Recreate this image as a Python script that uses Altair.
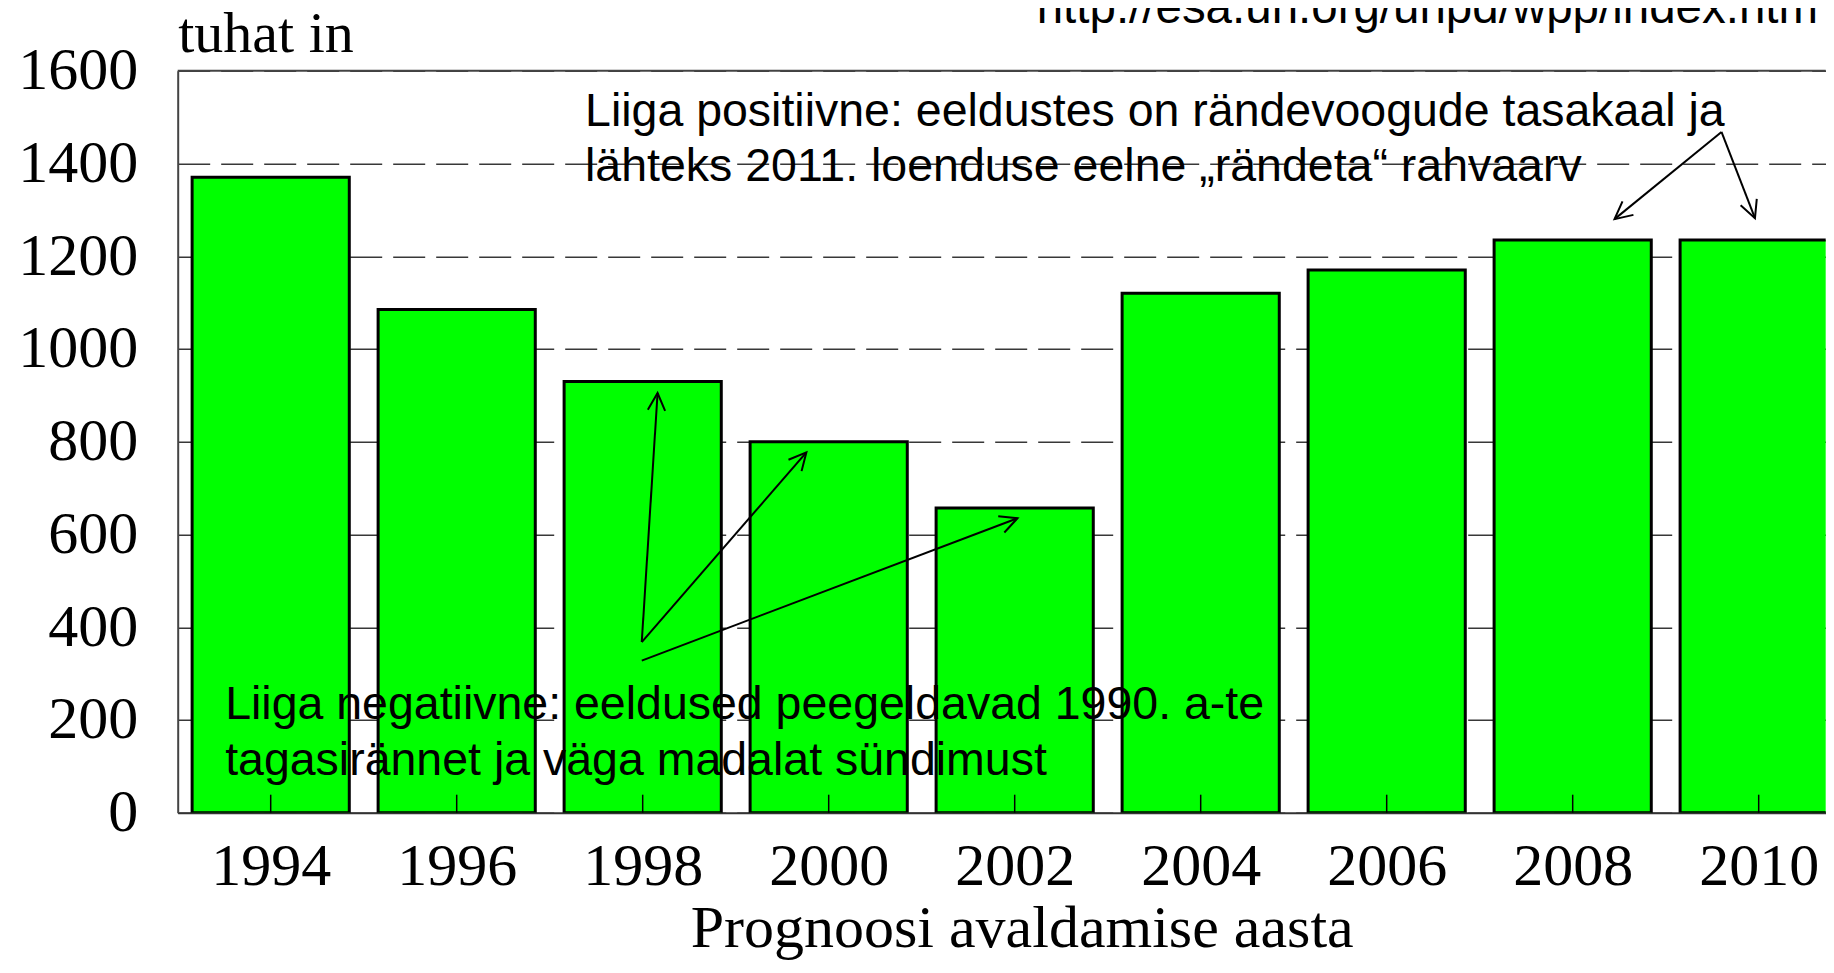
import math
import altair as alt
import pandas as pd

# ---------------- data ----------------
years = [1994, 1996, 1998, 2000, 2002, 2004, 2006, 2008, 2010]
values = [1370, 1085, 930, 800, 657, 1120, 1170, 1235, 1235]
y_tick_values = [0, 200, 400, 600, 800, 1000, 1200, 1400, 1600]

# arrows (data coordinates: year, thousand persons)
arrow_x1 = [1997.99, 1997.99, 1997.99, 2009.60, 2009.60]
arrow_y1 = [368, 368, 328, 1468, 1468]
arrow_x2 = [1998.16, 1999.76, 2002.03, 2008.45, 2009.96]
arrow_y2 = [905, 777, 635, 1280, 1282]

note_x = [1993.51, 1997.38]
note_y = [201, 1481]
note_text = [
    "Liiga negatiivne: eeldused peegeldavad 1990. a-te\ntagasirännet ja väga madalat sündimust",
    "Liiga positiivne: eeldustes on rändevoogude tasakaal ja\nlähteks 2011. loenduse eelne „rändeta“ rahvaarv",
]
url_text = ["http://esa.un.org/unpd/wpp/index.htm"]

# ---------------- layout / style ----------------
W, H = 1648, 742
PAD_L, PAD_T = 169.7, 62.7
PAD_B = 952 - PAD_T - H
X_MIN = 1993
PX_PER_YEAR = 93.0
X_MAX = X_MIN + W / PX_PER_YEAR
Y_MAX = 1600
PX_PER_UNIT = H / Y_MAX
BAR_HALF = 0.845
SERIF = "Liberation Serif"
SANS = "Liberation Sans"

xscale = alt.Scale(domain=[X_MIN, X_MAX], nice=False, zero=False)
yscale = alt.Scale(domain=[0, Y_MAX], nice=False)

bars_df = pd.DataFrame({"year": years, "value": values})

x_axis = alt.Axis(
    values=years, format="d", ticks=False, grid=False,
    domainColor="#333333", domainWidth=2,
    labelFont=SERIF, labelFontSize=60, labelColor="black",
    labelBaseline="alphabetic", labelPadding=72, labelFlush=False, labelOverlap=False,
    title="Prognoosi avaldamise aasta", titleFont=SERIF, titleFontSize=60,
    titleFontWeight="normal", titleColor="black", titleX=844, titleY=134,
    titleAlign="center", titleBaseline="alphabetic",
)
y_axis = alt.Axis(
    values=y_tick_values, format="d", ticks=False,
    domainColor="#444444", domainWidth=2,
    grid=True, gridDash=[32, 11], gridColor="#383838", gridWidth=1.6,
    labelFont=SERIF, labelFontSize=60, labelColor="black", labelPadding=40,
    labelFlush=False, labelOverlap=False,
    title="tuhat in", titleFont=SERIF, titleFontSize=58, titleFontWeight="normal",
    titleColor="black", titleAngle=0, titleX=0, titleY=-19,
    titleAlign="left", titleBaseline="alphabetic",
)

bars = (
    alt.Chart(bars_df)
    .transform_calculate(x0=f"datum.year - {BAR_HALF}", x1=f"datum.year + {BAR_HALF}")
    .mark_bar(color="#00FF00", stroke="black", strokeWidth=3, clip=True)
    .encode(
        x=alt.X("x0:Q", scale=xscale, axis=x_axis),
        x2="x1:Q",
        y=alt.Y("value:Q", scale=yscale, axis=y_axis),
        y2=alt.datum(0),
    )
)

ticks = (
    alt.Chart(pd.DataFrame({"year": years}))
    .mark_rule(color="black", strokeWidth=1.5)
    .encode(
        x=alt.X("year:Q", scale=xscale, axis=None),
        y=alt.value(H),
        y2=alt.value(H - 18),
    )
)

border = (
    alt.Chart(pd.DataFrame({"v": [Y_MAX]}))
    .mark_rule(color="#444444", strokeWidth=2)
    .encode(y=alt.Y("v:Q", scale=yscale, axis=None))
)

angles = []
for x1, y1, x2, y2 in zip(arrow_x1, arrow_y1, arrow_x2, arrow_y2):
    dx = (x2 - x1) * PX_PER_YEAR
    dy = -(y2 - y1) * PX_PER_UNIT
    angles.append(math.degrees(math.atan2(dx, -dy)) % 360)

arrows_df = pd.DataFrame({
    "x1": arrow_x1, "y1": arrow_y1, "x2": arrow_x2, "y2": arrow_y2, "ang": angles,
})

arrows = (
    alt.Chart(arrows_df)
    .mark_rule(color="black", strokeWidth=2)
    .encode(
        x=alt.X("x1:Q", scale=xscale, axis=None),
        y=alt.Y("y1:Q", scale=yscale, axis=None),
        x2="x2:Q",
        y2="y2:Q",
    )
)

heads = (
    alt.Chart(arrows_df)
    .mark_point(shape="M -0.5 1 L 0 0 L 0.5 1", filled=False, stroke="black",
                strokeWidth=2, size=1200, opacity=1)
    .encode(
        x=alt.X("x2:Q", scale=xscale, axis=None),
        y=alt.Y("y2:Q", scale=yscale, axis=None),
        angle=alt.Angle("ang:Q", scale=None),
    )
)

notes = (
    alt.Chart(pd.DataFrame({"x": note_x, "y": note_y, "t": note_text}))
    .mark_text(align="left", baseline="alphabetic", font=SANS, fontSize=46.5,
               lineHeight=55.5, lineBreak="\n", color="black")
    .encode(
        x=alt.X("x:Q", scale=xscale, axis=None),
        y=alt.Y("y:Q", scale=yscale, axis=None),
        text="t:N",
    )
)

url = (
    alt.Chart(pd.DataFrame({"t": url_text}))
    .mark_text(align="left", baseline="alphabetic", font=SANS, fontSize=47.5, color="black")
    .encode(x=alt.value(859), y=alt.value(-47.5), text="t:N")
)

chart = (
    alt.layer(bars, ticks, border, arrows, heads, notes, url)
    .resolve_axis(x="independent", y="independent")
    .properties(
        width=W, height=H,
        padding={"left": PAD_L, "top": PAD_T, "right": 0, "bottom": PAD_B},
        autosize=alt.AutoSizeParams(type="none"),
        background="white",
    )
    .configure_view(stroke=None)
)

chart.save("out.html", embed_options={"renderer": "svg", "actions": False})
